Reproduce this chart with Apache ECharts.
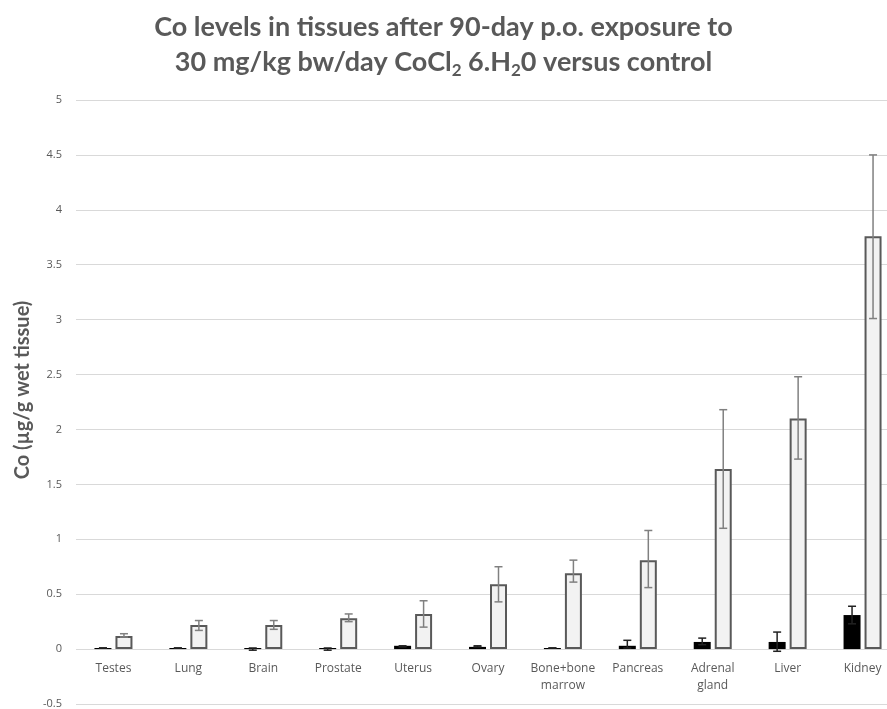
<!DOCTYPE html>
<html>
<head>
<meta charset="utf-8">
<style>
  html, body { margin: 0; padding: 0; background: #fff; }
  #chart { width: 887px; height: 709px; }
</style>
<script src="https://cdn.jsdelivr.net/npm/echarts@6/dist/echarts.min.js"></script>
</head>
<body>
<div id="chart"></div>
<script>
  // tissues on the x axis
  var tissues = ['Testes', 'Lung', 'Brain', 'Prostate', 'Uterus', 'Ovary',
    'Bone+bone\nmarrow', 'Pancreas', 'Adrenal\ngland', 'Liver', 'Kidney'];

  // control group (black bars)
  var control = [0.01, 0.01, 0.01, 0.01, 0.03, 0.02, 0.01, 0.03, 0.065, 0.065, 0.31];
  var controlLow = [0.01, 0.01, -0.01, -0.01, 0.02, 0.02, 0.01, 0.01, 0.04, -0.02, 0.23];
  var controlHigh = [0.01, 0.01, 0.01, 0.01, 0.03, 0.03, 0.01, 0.08, 0.10, 0.155, 0.39];

  // 30 mg/kg bw/day group (light bars)
  var treated = [0.12, 0.22, 0.22, 0.28, 0.32, 0.59, 0.69, 0.81, 1.64, 2.10, 3.76];
  var treatedLow = [0.11, 0.17, 0.18, 0.25, 0.20, 0.43, 0.61, 0.56, 1.10, 1.73, 3.01];
  var treatedHigh = [0.14, 0.26, 0.26, 0.32, 0.44, 0.75, 0.81, 1.08, 2.18, 2.48, 4.50];

  var yTicks = { min: -0.5, max: 5, step: 0.5 };

  var barW = 17;
  var gap = 4;

  function errorBars(low, high, shift, color) {
    return {
      type: 'custom',
      z: 10,
      data: tissues.map(function (t, i) { return [i, low[i], high[i]]; }),
      renderItem: function (params, api) {
        var lo = api.coord([api.value(0), api.value(1)]);
        var hi = api.coord([api.value(0), api.value(2)]);
        var x = lo[0] + shift;
        var cap = 4;
        var style = { stroke: color, lineWidth: 1.5 };
        return {
          type: 'group',
          children: [
            { type: 'line', shape: { x1: x, y1: lo[1], x2: x, y2: hi[1] }, style: style },
            { type: 'line', shape: { x1: x - cap, y1: hi[1], x2: x + cap, y2: hi[1] }, style: style },
            { type: 'line', shape: { x1: x - cap, y1: lo[1], x2: x + cap, y2: lo[1] }, style: style }
          ]
        };
      }
    };
  }

  var chart = echarts.init(document.getElementById('chart'));

  chart.setOption({
    animation: false,
    title: {
      text: '{t|Co levels in tissues after 90-day p.o. exposure to}\n' +
        '{t|30 mg/kg bw/day CoCl}{s|2}{t| 6.H}{s|2}{t|0 versus control}',
      left: 'center',
      top: 5,
      textStyle: {
        rich: {
          t: { fontFamily: 'Lato', fontWeight: 'bold', fontSize: 27, color: '#595959', lineHeight: 35 },
          s: { fontFamily: 'Lato', fontWeight: 'bold', fontSize: 17, color: '#595959', lineHeight: 35, padding: [16, 0, 0, 0] }
        }
      }
    },
    grid: {
      left: 76,
      top: 100,
      width: 824,
      bottom: 5,
      containLabel: false,
      outerBoundsMode: 'none'
    },
    xAxis: {
      type: 'category',
      data: tissues,
      offset: -55,
      axisLine: { show: false, onZero: false },
      axisTick: { show: false },
      axisLabel: {
        margin: 11,
        fontFamily: 'Open Sans',
        fontSize: 12,
        color: '#595959',
        lineHeight: 17,
        interval: 0
      }
    },
    yAxis: {
      type: 'value',
      min: yTicks.min,
      max: yTicks.max,
      interval: yTicks.step,
      name: 'Co (µg/g wet tissue)',
      nameLocation: 'middle',
      nameRotate: 90,
      nameGap: 33,
      nameTextStyle: { fontFamily: 'Lato', fontWeight: 'bold', fontSize: 20, color: '#595959', padding: [0, 0, 0, 24] },
      axisLine: { show: false },
      axisTick: { show: false },
      axisLabel: { margin: 14, fontFamily: 'Open Sans', fontSize: 11, color: '#595959' },
      splitLine: { lineStyle: { color: '#d9d9d9', width: 1 } }
    },
    series: [
      {
        name: 'control',
        type: 'bar',
        data: control,
        barWidth: barW,
        barGap: (gap / barW * 100) + '%',
        itemStyle: { color: '#000' }
      },
      {
        name: '30 mg/kg',
        type: 'bar',
        data: treated,
        barWidth: barW,
        itemStyle: { color: '#f2f2f2', borderColor: '#595959', borderWidth: 2 }
      },
      errorBars(controlLow, controlHigh, -(barW + gap) / 2, '#222'),
      errorBars(treatedLow, treatedHigh, (barW + gap) / 2, '#808080')
    ]
  });
</script>
</body>
</html>
